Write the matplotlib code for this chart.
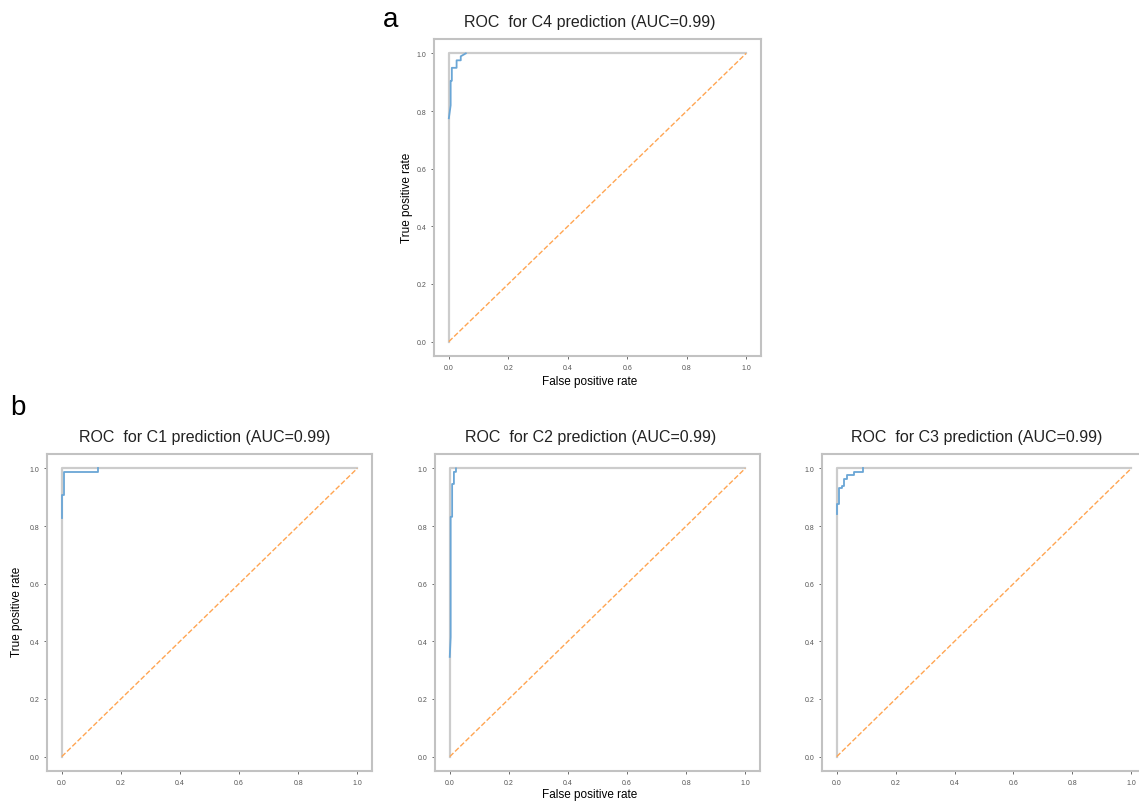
import matplotlib
matplotlib.use("Agg")
from matplotlib import pyplot as plt

plt.rcParams['font.family'] = ['Liberation Sans', 'DejaVu Sans']

W, H = 1139, 803

# ROC curves (fpr, tpr); the parts hidden under the
# gray "perfect" line (fpr=0 bottom, tpr=1 top) are left out
c4_fpr = [0, 0.006, 0.006, 0.01, 0.01, 0.026, 0.026, 0.04, 0.04, 0.057]
c4_tpr = [0.775, 0.82, 0.905, 0.905, 0.95, 0.95, 0.976, 0.976, 0.99, 1.0]

c1_fpr = [0.001, 0.001, 0.008, 0.008, 0.124, 0.124]
c1_tpr = [0.828, 0.906, 0.906, 0.988, 0.988, 1.0]

c2_fpr = [0, 0.003, 0.003, 0.008, 0.008, 0.014, 0.014, 0.021, 0.021]
c2_tpr = [0.346, 0.415, 0.832, 0.832, 0.946, 0.946, 0.988, 0.988, 1.0]

c3_fpr = [0.002, 0.002, 0.008, 0.008, 0.019, 0.019, 0.025, 0.025, 0.034, 0.034, 0.057, 0.057, 0.088, 0.088]
c3_tpr = [0.842, 0.877, 0.877, 0.933, 0.933, 0.94, 0.94, 0.964, 0.964, 0.978, 0.978, 0.988, 0.988, 1.0]

names = ["C4", "C1", "C2", "C3"]
auc = [0.99, 0.99, 0.99, 0.99]
curves = [(c4_fpr, c4_tpr), (c1_fpr, c1_tpr), (c2_fpr, c2_tpr), (c3_fpr, c3_tpr)]

# pixel boxes: left, top, right, bottom
boxes = [(434, 40, 761, 357), (47, 455, 372, 772), (435, 455, 760, 772), (822, 455, 1146, 772)]
title_x = [0.477, 0.486, 0.48, 0.478]

fig = plt.figure(figsize=(W / 100, H / 100), dpi=100)

for i in range(4):
    l, t, r, b = boxes[i]
    ax = fig.add_axes([l / W, 1 - b / H, (r - l) / W, (b - t) / H])
    fpr, tpr = curves[i]
    ax.plot([0, 0, 1], [0, 1, 1], color="#cccccc", lw=1.6, zorder=2)
    ax.plot([0, 1], [0, 1], color="#ffa552", lw=1.0, ls="--", zorder=2)
    ax.plot(fpr, tpr, color="#6aa6d6", lw=1.3, zorder=3)
    ax.set_xlim(-0.05, 1.05)
    ax.set_ylim(-0.05, 1.05)
    ax.set_xticks([0, 0.2, 0.4, 0.6, 0.8, 1.0])
    ax.set_yticks([0, 0.2, 0.4, 0.6, 0.8, 1.0])
    ax.tick_params(labelsize=5, length=2.5, width=0.6, colors="#555555", pad=3)
    for s in ax.spines.values():
        s.set_color("#c2c2c2")
        s.set_linewidth(1.5)
    ax.set_title("ROC  for " + names[i] + " prediction (AUC=" + str(auc[i]) + ")",
                 fontsize=11.5, color="#222222", pad=9, x=title_x[i])

# axis labels
fig.text(590 / W, 1 - 382 / H, "False positive rate", fontsize=8.5, ha="center", va="center")
fig.text(407 / W, 1 - 198 / H, "True positive rate", fontsize=8.5, ha="center", va="center", rotation=90)
fig.text(590 / W, 1 - 795 / H, "False positive rate", fontsize=8.5, ha="center", va="center")
fig.text(17 / W, 1 - 612 / H, "True positive rate", fontsize=8.5, ha="center", va="center", rotation=90)

# panel letters
fig.text(391 / W, 1 - 20 / H, "a", fontsize=20, ha="center", va="center")
fig.text(18 / W, 1 - 408 / H, "b", fontsize=20, ha="center", va="center")

fig.savefig("out.png", dpi=100)
